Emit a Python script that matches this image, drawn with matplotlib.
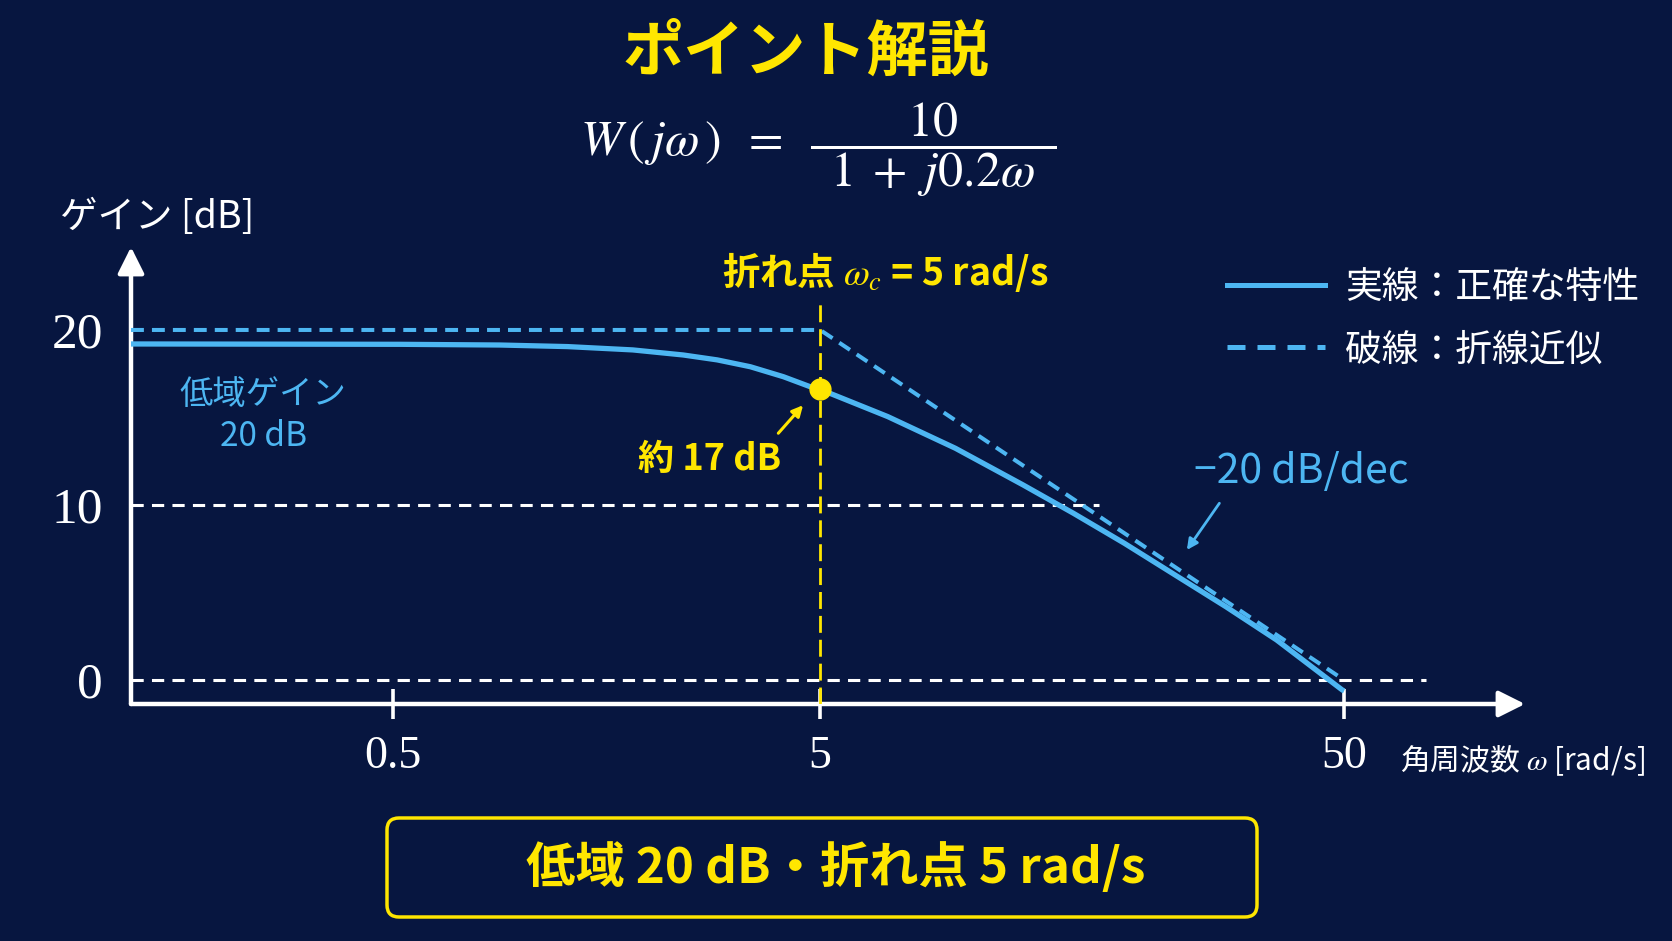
import numpy as np
import matplotlib.pyplot as plt
from matplotlib.patches import FancyBboxPatch
from matplotlib.lines import Line2D

plt.rcParams['font.family'] = ['Noto Sans CJK JP', 'DejaVu Sans']
plt.rcParams['mathtext.fontset'] = 'stix'

# --- data ---
omega_curve = [0.1216, 0.519, 0.89, 1.28, 1.82, 2.39, 2.87, 3.43, 4.10, 4.82, 5.0, 5.22,
               6.73, 9.06, 12.19, 15.23, 19.04, 23.79, 29.73, 37.15, 49.6, 50.0]
gain_curve = [19.2, 19.18, 19.14, 19.05, 18.86, 18.57, 18.29, 17.9, 17.33, 16.69, 16.57, 16.38,
              15.05, 13.24, 11.15, 9.52, 7.81, 6.0, 4.19, 2.29, -0.57, -0.62]
omega_asym = [0.1216, 5.0, 50.0]
gain_asym = [20, 20, 0]
corner_omega = 5.0
corner_gain = 16.6
x_ticks = [0.5, 5, 50]
x_ticklabels = ['0.5', '5', '50']
y_ticks = [0, 10, 20]
y_ticklabels = ['0', '10', '20']
legend_labels = ['実線：正確な特性', '破線：折線近似']

BG = '#071640'
BLUE = '#4DB6F2'
YELLOW = '#FFE600'
WHITE = '#FFFFFF'

W, H = 1672, 941
fig = plt.figure(figsize=(W / 100, H / 100), dpi=100, facecolor=BG)


def fx(px):
    return px / W


def fy(py):
    return 1 - py / H


# the reference axis is log-like but the two decades have different widths
def fwd(w):
    l = np.log10(np.clip(np.asarray(w, float), 1e-9, None) / 5.0)
    return np.where(l < 0, l * 427.0, l * 524.0)


def inv(p):
    p = np.asarray(p, float)
    return 5.0 * 10 ** np.where(p < 0, p / 427.0, p / 524.0)


ax = fig.add_axes([fx(131), fy(704), fx(1525) - fx(131), fy(247) - fy(704)])
ax.set_facecolor('none')
ax.set_xscale('function', functions=(fwd, inv))
ax.set_xlim(0.1216, 110.7)
ax.set_ylim(-1.37, 24.74)
for s in ax.spines.values():
    s.set_visible(False)

# axes with arrows
arrow = dict(arrowstyle='-|>', color=WHITE, lw=3.2, shrinkA=0, shrinkB=0, mutation_scale=40)
ax.annotate('', xy=(0, 1), xytext=(0, 0), xycoords='axes fraction', arrowprops=arrow)
ax.annotate('', xy=(1, 0), xytext=(0, 0), xycoords='axes fraction', arrowprops=arrow)

ax.set_xticks(x_ticks)
ax.set_xticklabels(x_ticklabels)
ax.minorticks_off()
ax.tick_params(axis='x', which='both', direction='inout', length=22, width=2.6, color=WHITE,
               labelcolor=WHITE, labelsize=33, pad=12, labelfontfamily='Liberation Serif')
ax.set_yticks(y_ticks)
ax.set_yticklabels(y_ticklabels)
ax.tick_params(axis='y', length=0, labelcolor=WHITE, labelsize=37, pad=20,
               labelfontfamily='Liberation Serif')

# white reference lines
ax.plot([0.1216, 17.0], [10, 10], color=WHITE, lw=2.2, dashes=(4, 2.7), zorder=2)
ax.plot([0.1216, 71.7], [0, 0], color=WHITE, lw=2.2, dashes=(4, 2.7), zorder=2)

# curves
ax.plot(omega_curve, gain_curve, color=BLUE, lw=3.8, solid_capstyle='butt',
        solid_joinstyle='round', zorder=4, clip_on=False)
ax.plot(omega_asym, gain_asym, color=BLUE, lw=2.9, dashes=(3.2, 2.0), zorder=3, clip_on=False)

# corner frequency marker
ax.vlines(corner_omega, -1.37, 21.8, color=YELLOW, lw=2.0, linestyles=(0, (6.1, 2.5)), zorder=5)
ax.plot([corner_omega], [corner_gain], 'o', color=YELLOW, ms=15, zorder=6)

ax.text(2.75, 12.6, '約 17 dB', color=YELLOW, fontsize=26, fontweight='bold',
        ha='center', va='center')
ax.annotate('', xy=(4.56, 15.7), xytext=(3.99, 14.1),
            arrowprops=dict(arrowstyle='-|>', color=YELLOW, lw=2.2, shrinkA=0, shrinkB=0,
                            mutation_scale=16))
ax.text(0.248, 16.3, '低域ゲイン', color=BLUE, fontsize=24, ha='center', va='center')
ax.text(0.248, 13.9, '20 dB', color=BLUE, fontsize=24, ha='center', va='center')

ax.text(41.4, 11.9, '−20 dB/dec', color=BLUE, fontsize=29.5, ha='center', va='center')
ax.annotate('', xy=(25.05, 7.43), xytext=(28.9, 10.1),
            arrowprops=dict(arrowstyle='-|>', color=BLUE, lw=2.0, shrinkA=0, shrinkB=0,
                            mutation_scale=16))

ax.text(6.65, 23.3, '折れ点 $\\omega_c$ = 5 rad/s', color=YELLOW, fontsize=27,
        fontweight='bold', ha='center', va='center')

handles = [Line2D([], [], color=BLUE, lw=3.6),
           Line2D([], [], color=BLUE, lw=3.6, dashes=(3.6, 2.4))]
ax.legend(handles, legend_labels, loc='upper left',
          bbox_to_anchor=(fx(1227), fy(268)), bbox_transform=fig.transFigure,
          frameon=False, fontsize=26.5, labelcolor=WHITE, handlelength=2.65,
          handletextpad=0.55, labelspacing=0.63, borderpad=0, borderaxespad=0)

# titles and axis labels
fig.text(fx(806), fy(53), 'ポイント解説', color=YELLOW, fontsize=44, fontweight='bold',
         ha='center', va='center')
fig.text(fx(818), fy(150),
         r'$W\,(\,j\omega\,)\;\;=\;\;\dfrac{10}{\;\;1\;+\;j0.2\omega\;\;}$',
         color=WHITE, fontsize=36, ha='center', va='center')
fig.text(fx(157), fy(218), 'ゲイン [dB]', color=WHITE, fontsize=27, ha='center', va='center')
fig.text(fx(1400), fy(761), '角周波数 $\\omega$ [rad/s]', color=WHITE, fontsize=21.5,
         ha='left', va='center')

# summary box
box = FancyBboxPatch((3.87, 0.24), 8.70, 0.99, boxstyle='round,pad=0,rounding_size=0.12',
                     transform=fig.dpi_scale_trans, facecolor=BG, edgecolor=YELLOW, lw=2.5)
fig.add_artist(box)
fig.text(fx(836), fy(868), '低域 20 dB・折れ点 5 rad/s', color=YELLOW, fontsize=35.5,
         fontweight='bold', ha='center', va='center')

fig.savefig('out.png', dpi=100, facecolor=BG)
